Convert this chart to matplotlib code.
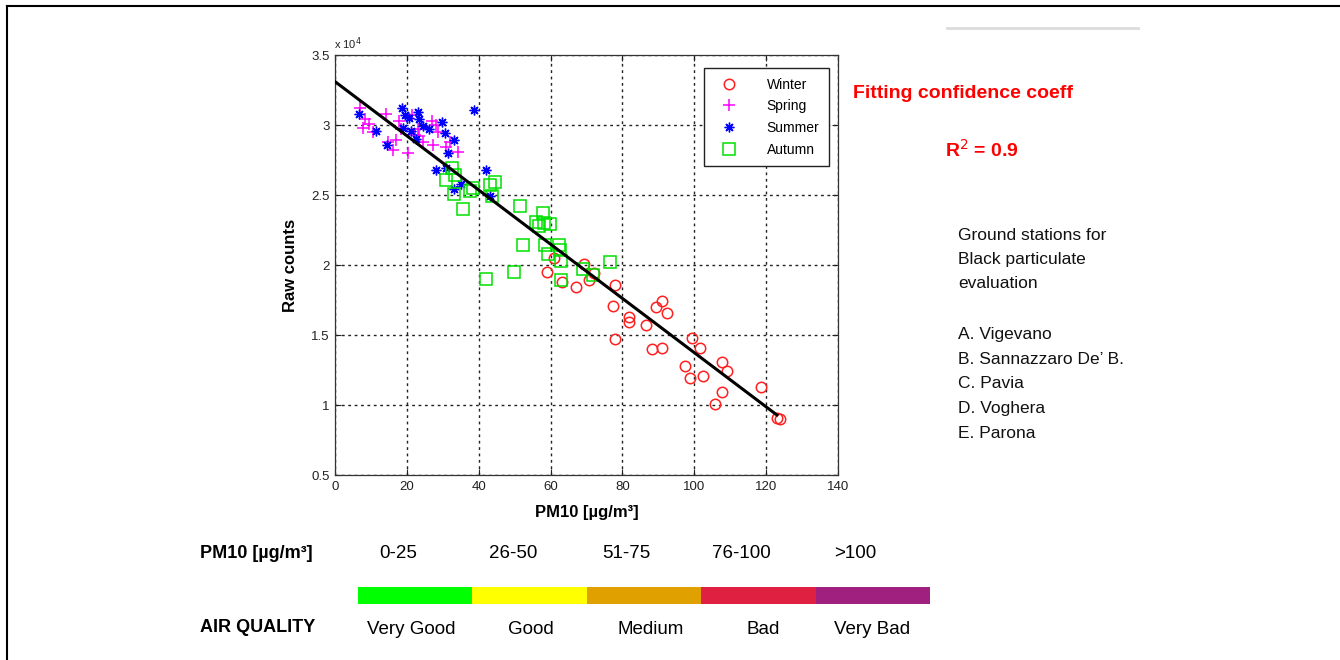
import matplotlib
matplotlib.use("Agg")
import matplotlib.pyplot as plt
import numpy as np
from matplotlib.lines import Line2D

plt.rcParams['font.family'] = ['Liberation Sans', 'DejaVu Sans']

# ---------------- data (raw counts in units of 1e4) ----------------
winter_pm = [59.1, 61.0, 63.3, 67.0, 69.2, 70.8, 72.2, 78.0, 77.5, 78.0, 81.9, 81.9, 86.6,
             89.4, 91.1, 92.5, 88.3, 91.1, 99.4, 101.6, 97.4, 98.8, 102.4, 107.7, 109.1,
             107.7, 105.8, 118.6, 123.0, 123.9]
winter_rc = [1.95, 2.05, 1.88, 1.84, 2.01, 1.89, 1.94, 1.86, 1.71, 1.47, 1.63, 1.59, 1.57,
             1.70, 1.74, 1.66, 1.40, 1.41, 1.48, 1.41, 1.28, 1.19, 1.21, 1.31, 1.24,
             1.09, 1.01, 1.13, 0.91, 0.90]

spring_pm = [6.9, 8.3, 9.4, 7.8, 10.6, 14.3, 14.7, 16.1, 17.1, 17.9, 18.4, 20.3, 21.4,
             22.2, 23.5, 24.4, 26.9, 28.2, 27.2, 28.6, 30.9, 34.2, 23.2, 32.0]
spring_rc = [3.12, 3.04, 3.01, 2.98, 2.95, 3.08, 2.88, 2.82, 2.89, 3.03, 2.97, 2.80, 3.07,
             2.93, 2.92, 2.88, 3.03, 3.00, 2.86, 2.95, 2.84, 2.81, 2.97, 2.88]

summer_pm = [6.7, 11.5, 18.7, 19.6, 20.7, 23.1, 23.5, 21.2, 19.0, 24.5, 26.3, 29.8, 30.5,
             33.1, 31.4, 28.2, 30.9, 42.1, 38.8, 33.0, 14.6, 22.6, 35.1, 43.2]
summer_rc = [3.08, 2.96, 3.12, 3.07, 3.05, 3.09, 3.04, 2.96, 2.98, 2.99, 2.97, 3.02, 2.94,
             2.89, 2.80, 2.68, 2.69, 2.68, 3.11, 2.54, 2.86, 2.90, 2.58, 2.49]

autumn_pm = [30.9, 32.5, 33.5, 33.1, 35.7, 37.5, 38.3, 43.1, 44.6, 43.6, 51.4, 57.8, 55.9,
             56.8, 58.1, 59.8, 52.4, 58.4, 62.4, 62.5, 59.3, 62.9, 49.9, 42.1, 62.9, 69.1,
             71.7, 76.5]
autumn_rc = [2.61, 2.69, 2.64, 2.51, 2.40, 2.53, 2.55, 2.57, 2.59, 2.49, 2.42, 2.37, 2.31,
             2.28, 2.30, 2.29, 2.14, 2.14, 2.14, 2.11, 2.08, 2.03, 1.95, 1.90, 1.89, 1.97,
             1.93, 2.02]

fit_intercept = 3.31   # x 1e4
fit_slope = -0.01936   # x 1e4 per ug/m3
fit_range = [0, 123]

x_ticks = [0, 20, 40, 60, 80, 100, 120, 140]
y_ticks = [0.5, 1, 1.5, 2, 2.5, 3, 3.5]
y_ticklabels = ['0.5', '1', '1.5', '2', '2.5', '3', '3.5']

pm_ranges = ['0-25', '26-50', '51-75', '76-100', '>100']
quality_labels = ['Very Good', 'Good', 'Medium', 'Bad', 'Very Bad']
quality_colors = ['#00ff00', '#ffff00', '#e0a000', '#e02040', '#a02080']

stations = ['A. Vigevano', "B. Sannazzaro De\u2019 B.", 'C. Pavia', 'D. Voghera', 'E. Parona']

# ---------------- figure ----------------
W, H = 1340, 660
fig = plt.figure(figsize=(W / 100, H / 100), dpi=100)
fig.patch.set_facecolor('white')

def fx(px):
    return px / W

def fy(py):
    return 1 - py / H

# outer frame (left + top)
fig.add_artist(Line2D([fx(7), fx(7)], [fy(6), fy(660)], color='black', lw=1.5))
fig.add_artist(Line2D([fx(7), fx(1340)], [fy(6), fy(6)], color='black', lw=1.5))
# light grey line top right
fig.add_artist(Line2D([fx(947), fx(1138)], [fy(28), fy(28)], color='#dcdcdc', lw=2))

ax = fig.add_axes([fx(335), fy(475), fx(838) - fx(335), fy(55) - fy(475)])

ax.plot(winter_pm, winter_rc, linestyle='none', marker='o', markersize=7.5,
        markerfacecolor='none', markeredgecolor='#ff2020', markeredgewidth=1.1, label='Winter')
ax.plot(spring_pm, spring_rc, linestyle='none', marker='+', markersize=8,
        markeredgecolor='#ff00ff', markeredgewidth=1.1, label='Spring')
ax.plot(summer_pm, summer_rc, linestyle='none', marker=(8, 2, 0), markersize=7,
        markeredgecolor='#0000ff', markeredgewidth=1.0, label='Summer')
ax.plot(autumn_pm, autumn_rc, linestyle='none', marker='s', markersize=8,
        markerfacecolor='none', markeredgecolor='#00e000', markeredgewidth=1.1, label='Autumn')

xf = np.array(fit_range, dtype=float)
ax.plot(xf, fit_intercept + fit_slope * xf, color='black', lw=2.2, zorder=5)

ax.set_xlim(0, 140)
ax.set_ylim(0.5, 3.5)
ax.set_xticks(x_ticks)
ax.set_yticks(y_ticks)
ax.set_yticklabels(y_ticklabels)
ax.tick_params(direction='in', top=True, right=True, length=4, labelsize=9.5,
               colors='#222222', pad=4)
ax.grid(True, color='#222222', linestyle=(0, (2, 2.6)), linewidth=1.0)
ax.set_axisbelow(True)
for sp in ax.spines.values():
    sp.set_color('#333333')
    sp.set_linewidth(0.9)

ax.set_xlabel('PM10 [\u00b5g/m\u00b3]', fontsize=12, fontweight='bold', labelpad=9)
ax.set_ylabel('Raw counts', fontsize=12, fontweight='bold', labelpad=9)
fig.text(fx(334), fy(44), 'x 10$^4$', fontsize=8, ha='left', va='center', color='#222222')

leg = ax.legend(loc='upper right', bbox_to_anchor=(fx(829), fy(68)),
                bbox_transform=fig.transFigure, fancybox=False, framealpha=1,
                edgecolor='#222222', fontsize=10, handletextpad=1.6, borderpad=0.7,
                labelspacing=0.55, handlelength=2.2, borderaxespad=0)
leg.get_frame().set_linewidth(1.0)

# ---------------- right-hand texts ----------------
fig.text(fx(853), fy(93), 'Fitting confidence coeff', color='#ff0000', fontsize=14,
         fontweight='bold', ha='left', va='center')
fig.text(fx(945), fy(150), 'R$^2$ = 0.9', color='#ff0000', fontsize=14,
         fontweight='bold', ha='left', va='center')
for i, line in enumerate(['Ground stations for', 'Black particulate', 'evaluation']):
    fig.text(fx(958), fy(235 + 24.5 * i), line, fontsize=12.5, ha='left', va='center',
             color='#111111')
for i, st in enumerate(stations):
    fig.text(fx(958), fy(334 + 25 * i), st, fontsize=12.5, ha='left', va='center',
             color='#111111')

# ---------------- air quality scale ----------------
bax = fig.add_axes([fx(358), fy(604), fx(930) - fx(358), fy(587) - fy(604)])
bax.bar(range(len(quality_colors)), [1] * len(quality_colors), width=1.0,
        color=quality_colors, edgecolor='none')
bax.set_xlim(-0.5, len(quality_colors) - 0.5)
bax.set_ylim(0, 1)
bax.axis('off')

fig.text(fx(200), fy(553), 'PM10 [\u00b5g/m\u00b3]', fontsize=13, fontweight='bold',
         ha='left', va='center')
fig.text(fx(200), fy(628), 'AIR QUALITY', fontsize=13, fontweight='bold',
         ha='left', va='center')
pm_x = [398, 513, 626, 741, 855]
q_x = [411, 531, 651, 763, 872]
for lbl, px in zip(pm_ranges, pm_x):
    fig.text(fx(px), fy(553), lbl, fontsize=13.5, ha='center', va='center')
for lbl, px in zip(quality_labels, q_x):
    fig.text(fx(px), fy(629), lbl, fontsize=13.5, ha='center', va='center')

fig.savefig('out.png', dpi=100, facecolor='white')
